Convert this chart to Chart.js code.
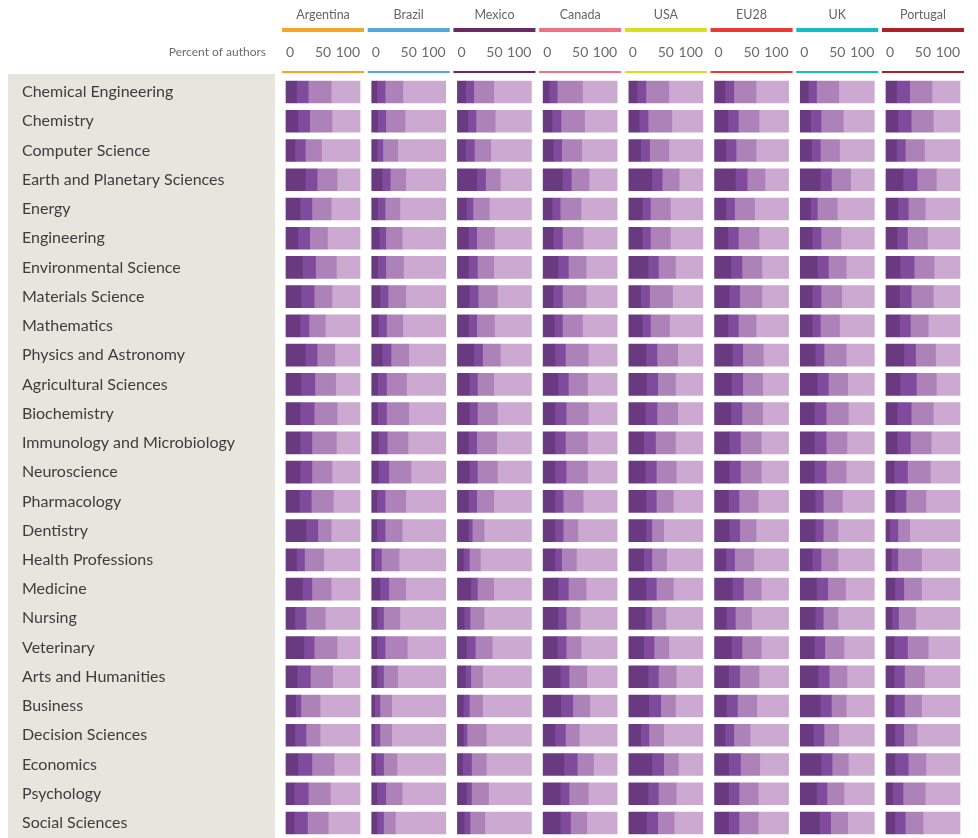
<!DOCTYPE html>
<html lang="en">
<head>
<meta charset="UTF-8">
<title>Authors by subject area</title>
<style>
  body { margin: 0; background: #fff; }
  .chart-wrap { position: relative; width: 978px; height: 838px; }
</style>
</head>
<body>
<div class="chart-wrap"><canvas id="subjectChart"></canvas></div>
<script src="https://cdn.jsdelivr.net/npm/chart.js"></script>
<script>
const subjects = [
  'Chemical Engineering', 'Chemistry', 'Computer Science', 'Earth and Planetary Sciences',
  'Energy', 'Engineering', 'Environmental Science', 'Materials Science', 'Mathematics',
  'Physics and Astronomy', 'Agricultural Sciences', 'Biochemistry',
  'Immunology and Microbiology', 'Neuroscience', 'Pharmacology', 'Dentistry',
  'Health Professions', 'Medicine', 'Nursing', 'Veterinary', 'Arts and Humanities',
  'Business', 'Decision Sciences', 'Economics', 'Psychology', 'Social Sciences'
];
const countries = ['Argentina', 'Brazil', 'Mexico', 'Canada', 'USA', 'EU28', 'UK', 'Portugal'];
const countryColors = ['#f6a623', '#4fa8de', '#6a2965', '#f2707f', '#d7df23', '#ee3a35', '#16bcc4', '#ab2029'];
const tickValues = [0, 50, 100];
const segmentLabels = ['Group 1', 'Group 2', 'Group 3', 'Group 4'];
const segmentColors = ['#6a3a80', '#804a9d', '#ad82b8', '#cca9d1'];

// one row per subject, four shares (percent) adding up to 100
const argentina = [
  [14,16,31,39], [16,16,30,38], [12,14,22,52], [26,16,27,31], [19,16,26,39], [16,16,24,44],
  [22,18,28,32], [20,18,24,38], [19,12,22,47], [26,16,24,34], [20,19,28,33], [19,19,31,31],
  [19,16,33,32], [19,16,27,38], [18,16,30,36], [27,16,18,39], [14,11,26,49], [22,13,26,39],
  [12,15,26,47], [24,14,31,31], [15,18,30,37], [13,7,26,54], [12,15,19,54], [16,19,30,35],
  [11,19,30,40], [11,18,28,43]
];
const brazil = [
  [7,11,24,58], [8,11,26,55], [7,8,20,65], [14,11,21,54], [8,10,20,62], [10,9,22,59],
  [8,11,24,57], [11,11,24,54], [9,11,22,58], [14,12,24,50], [8,12,27,53], [8,12,30,50],
  [9,12,28,51], [9,14,30,47], [7,11,28,54], [7,11,23,59], [4,9,24,63], [11,12,23,54],
  [7,9,22,62], [7,11,30,52], [7,9,19,65], [4,7,16,73], [4,7,16,73], [5,11,18,66],
  [7,12,22,59], [7,9,16,68]
];
const mexico = [
  [11,11,27,51], [14,11,26,49], [11,12,22,55], [26,12,20,42], [12,9,22,57], [15,11,24,50],
  [15,12,22,51], [16,12,26,46], [15,11,24,50], [22,12,24,42], [16,11,22,51], [16,11,27,46],
  [15,11,27,47], [16,11,27,46], [15,11,23,51], [15,5,16,64], [8,8,15,69], [18,9,22,51],
  [9,8,19,64], [12,12,23,53], [11,7,16,66], [8,8,18,66], [8,5,26,61], [7,12,20,61],
  [12,7,23,58], [9,8,20,63]
];
const canada = [
  [8,11,34,47], [12,12,32,44], [14,11,27,48], [26,12,24,38], [12,11,28,49], [14,12,28,46],
  [20,14,24,42], [14,12,32,42], [15,11,27,47], [16,14,31,39], [20,14,26,40], [16,15,30,39],
  [16,14,30,40], [16,15,29,40], [16,11,27,46], [16,11,20,53], [16,9,20,55], [20,14,24,42],
  [20,11,19,50], [19,12,20,49], [23,12,24,41], [24,16,23,37], [16,14,19,51], [28,18,22,32],
  [23,12,26,39], [23,14,22,41]
];
const usa = [
  [11,12,31,46], [14,12,32,42], [16,12,26,46], [31,14,23,32], [18,11,27,44], [18,11,27,44],
  [26,14,23,37], [16,12,31,41], [18,11,26,45], [23,15,28,34], [24,15,24,37], [22,16,28,34],
  [20,16,27,37], [22,15,27,36], [23,14,23,40], [23,8,16,53], [20,11,20,49], [23,14,23,40],
  [22,9,19,50], [20,14,20,46], [26,14,24,36], [27,16,20,37], [16,11,20,53], [31,16,20,33],
  [26,14,24,36], [24,15,22,39]
];
const eu28 = [
  [14,12,30,44], [18,14,28,40], [15,14,27,44], [28,16,24,32], [15,12,27,46], [18,14,28,40],
  [22,15,27,36], [20,14,30,36], [18,14,24,44], [24,14,28,34], [23,15,27,35], [22,15,28,35],
  [20,15,28,37], [20,15,28,37], [19,14,26,41], [20,14,22,44], [15,12,26,47], [24,15,24,37],
  [16,12,22,50], [23,14,26,37], [19,15,26,40], [16,15,26,43], [14,12,22,52], [19,16,26,39],
  [19,14,26,41], [19,14,26,41]
];
const uk = [
  [11,11,30,48], [14,14,30,42], [15,12,26,47], [27,15,26,32], [14,9,27,50], [16,12,27,45],
  [23,15,24,38], [16,12,28,44], [16,11,26,47], [20,12,30,38], [23,15,26,36], [19,16,30,35],
  [19,16,28,37], [19,16,27,38], [20,11,26,43], [20,11,20,49], [16,12,23,49], [22,15,24,39],
  [20,11,20,49], [19,14,26,41], [24,15,24,37], [27,15,20,38], [18,14,20,48], [28,15,22,35],
  [22,14,23,41], [26,15,23,36]
];
const portugal = [
  [14,18,30,38], [16,18,30,36], [14,12,26,48], [23,19,26,32], [16,14,23,47], [15,14,27,44],
  [19,19,27,35], [18,16,30,36], [18,15,24,43], [24,16,27,33], [19,22,27,32], [15,19,30,36],
  [15,18,28,39], [11,18,31,40], [12,15,27,46], [5,11,16,68], [7,9,32,52], [12,12,24,52],
  [8,9,23,60], [11,18,28,43], [11,14,27,48], [11,14,23,52], [12,12,18,58], [12,18,24,46],
  [9,14,30,47], [12,14,24,50]
];
const countryRows = [argentina, brazil, mexico, canada, usa, eu28, uk, portugal];

const labelFont = 'Lato, "Open Sans", sans-serif';

// four stacked segments per country, each country on its own x axis
const datasets = [];
countryRows.forEach((rows, ci) => {
  segmentLabels.forEach((label, si) => {
    datasets.push({
      label: countries[ci] + ' ' + label,
      data: rows.map(r => r[si]),
      xAxisID: 'x' + ci,
      stack: 'share',
      backgroundColor: segmentColors[si],
      borderWidth: 0,
      barThickness: 22
    });
  });
});

const scales = {
  y: {
    type: 'category',
    labels: subjects,
    position: 'left',
    stacked: true,
    grid: { display: false },
    border: { display: false },
    ticks: {
      crossAlign: 'far',
      autoSkip: false,
      color: '#3d3d3d',
      font: { family: labelFont, size: 16 }
    },
    afterFit: s => { s.width = 258.15; s.paddingTop = 0; s.paddingBottom = 0; }
  }
};
// top boxes are laid out in reverse order, so add the last country first
for (let ci = countries.length - 1; ci >= 0; ci--) {
  scales['x' + ci] = {
    type: 'linear',
    axis: 'x',
    position: 'top',
    stack: 'countries',
    stacked: true,
    min: -7.9,
    max: 107.9,
    grid: { display: false },
    border: { display: false },
    afterBuildTicks: s => { s.ticks = tickValues.map(v => ({ value: v })); },
    ticks: {
      align: 'inner',
      autoSkip: false,
      maxRotation: 0,
      padding: 8.9,
      color: '#6b6b6b',
      font: { family: labelFont, size: 14 }
    },
    title: {
      display: true,
      text: countries[ci],
      color: '#666',
      font: { family: labelFont, size: 12.5 },
      padding: { top: 7, bottom: 0 }
    },
    afterFit: s => { s.height = 77.4; s.paddingLeft = 0; s.paddingRight = 0; }
  };
}

// grey label panel, coloured header rules and the axis caption
const panelDecor = {
  id: 'panelDecor',
  beforeDraw(chart) {
    const ctx = chart.ctx;
    ctx.save();
    ctx.fillStyle = '#e6e6de';
    ctx.fillRect(8, 74, 267, chart.height - 74);
    countries.forEach((name, ci) => {
      const s = chart.scales['x' + ci];
      const x0 = s.getPixelForValue(0) - 4;
      const x1 = s.getPixelForValue(100) + 4;
      ctx.fillStyle = countryColors[ci];
      ctx.fillRect(x0, 28, x1 - x0, 4);
      ctx.fillRect(x0, 71, x1 - x0, 2);
    });
    ctx.fillStyle = '#6b6b6b';
    ctx.font = '12px ' + labelFont;
    ctx.textAlign = 'right';
    ctx.textBaseline = 'middle';
    ctx.fillText('Percent of authors', 266, 52.5);
    ctx.restore();
  }
};

new Chart(document.getElementById('subjectChart'), {
  type: 'bar',
  data: { labels: subjects, datasets: datasets },
  options: {
    indexAxis: 'y',
    responsive: true,
    maintainAspectRatio: false,
    animation: false,
    layout: { padding: { left: 22, right: 12.15, top: 0, bottom: 0.4 } },
    plugins: {
      legend: { display: false },
      tooltip: { enabled: false }
    },
    scales: scales
  },
  plugins: [panelDecor]
});
</script>
</body>
</html>
